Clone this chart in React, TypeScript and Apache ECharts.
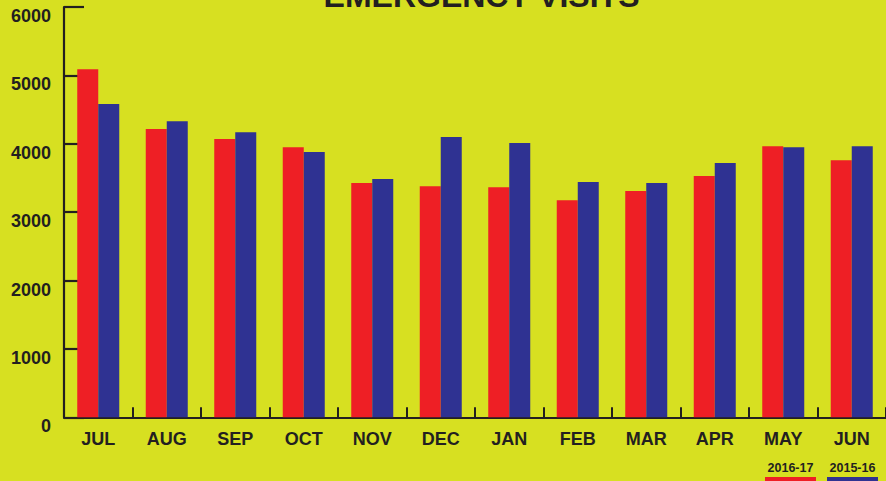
import React, { useEffect, useRef } from "react";
import * as echarts from "echarts";

const months = ["JUL", "AUG", "SEP", "OCT", "NOV", "DEC", "JAN", "FEB", "MAR", "APR", "MAY", "JUN"];
const visits2016_17 = [5090, 4215, 4070, 3950, 3425, 3380, 3365, 3175, 3310, 3530, 3965, 3760];
const visits2015_16 = [4580, 4330, 4170, 3880, 3485, 4100, 4010, 3440, 3425, 3720, 3950, 3965];
const seriesNames = ["2016-17", "2015-16"];
const colors = ["#ee1f25", "#2f3292"];
const titleText = "EMERGENCY VISITS";

const BG = "#d7e021";
const INK = "#231f20";
const FONT = "'Liberation Sans', Arial, Helvetica, sans-serif";

export default function App() {
  const ref = useRef<HTMLDivElement>(null);
  useEffect(() => {
    if (!ref.current) return;
    const chart = echarts.init(ref.current, undefined, { renderer: "svg" });
    chart.setOption({
      animation: false,
      backgroundColor: BG,
      textStyle: { fontFamily: FONT },
      grid: { left: 64, top: 7, width: 824.5, bottom: 63.7, containLabel: false },
      xAxis: {
        type: "category",
        data: months,
        boundaryGap: true,
        axisLine: { show: true, lineStyle: { color: INK, width: 2.2 } },
        axisTick: { show: true, inside: true, length: 10, lineStyle: { color: INK, width: 2 } },
        axisLabel: { color: INK, fontSize: 18, fontWeight: "bold", fontFamily: FONT, margin: 13 },
        splitLine: { show: false },
      },
      yAxis: {
        type: "value",
        min: 0,
        max: 6000,
        interval: 1000,
        axisLine: { show: true, lineStyle: { color: INK, width: 2.2 } },
        axisTick: { show: true, inside: true, length: 20, lineStyle: { color: INK, width: 2.2 } },
        axisLabel: {
          color: INK,
          fontSize: 18,
          fontWeight: "bold",
          fontFamily: FONT,
          margin: 13,
          verticalAlign: "top",
          formatter: (v: number) => String(v),
        },
        splitLine: { show: false },
      },
      series: [
        {
          name: seriesNames[0],
          type: "bar",
          data: visits2016_17,
          barWidth: 21,
          barGap: "0%",
          itemStyle: { color: colors[0] },
        },
        {
          name: seriesNames[1],
          type: "bar",
          data: visits2015_16,
          barWidth: 21,
          barGap: "0%",
          itemStyle: { color: colors[1] },
        },
      ],
      graphic: [
        {
          type: "text",
          x: 481.5,
          y: -4,
          style: {
            text: titleText,
            fill: INK,
            font: `bold 32px ${FONT}`,
            textAlign: "center",
            textVerticalAlign: "middle",
          },
        },
        {
          type: "text",
          x: 790.5,
          y: 468,
          style: {
            text: seriesNames[0],
            fill: INK,
            font: `bold 12.5px ${FONT}`,
            textAlign: "center",
            textVerticalAlign: "middle",
          },
        },
        { type: "rect", shape: { x: 765, y: 477, width: 51, height: 10 }, style: { fill: colors[0] } },
        {
          type: "text",
          x: 852.5,
          y: 468,
          style: {
            text: seriesNames[1],
            fill: INK,
            font: `bold 12.5px ${FONT}`,
            textAlign: "center",
            textVerticalAlign: "middle",
          },
        },
        { type: "rect", shape: { x: 827, y: 477, width: 51, height: 10 }, style: { fill: colors[1] } },
      ],
    });
    return () => chart.dispose();
  }, []);
  return <div ref={ref} style={{ width: 886, height: 481, position: "absolute", left: 0, top: 0 }} />;
}
